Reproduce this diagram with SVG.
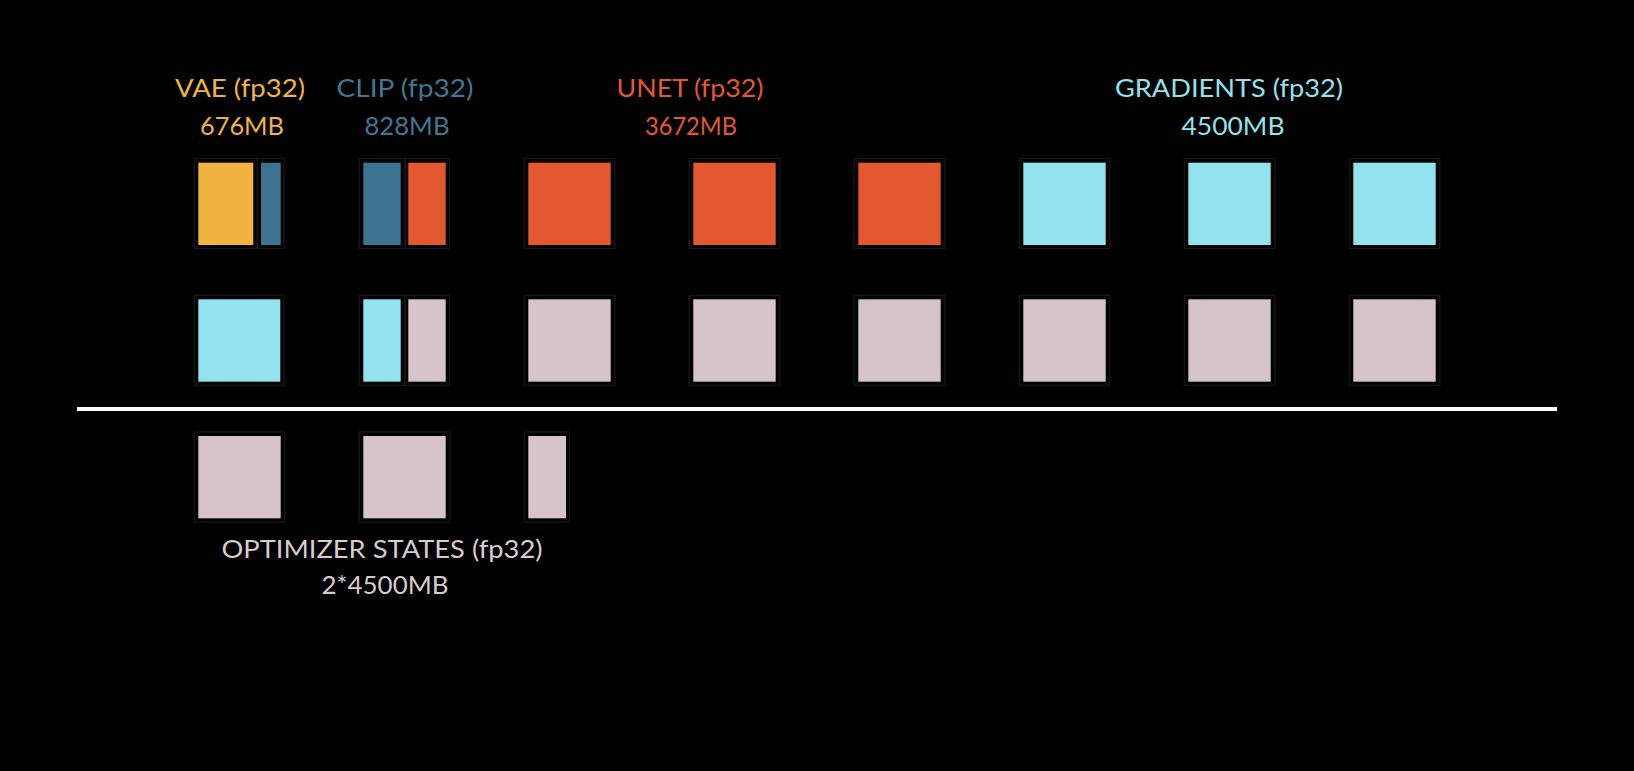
<svg xmlns="http://www.w3.org/2000/svg" width="1634" height="771" viewBox="0 0 1634 771">
<style>
.bg{fill:#000}
.fr{fill:none;stroke:#1a1a1a;stroke-width:1.2}
.y{fill:#F1B441}
.b{fill:#3B7391}
.r{fill:#E4582F}
.c{fill:#92E3EE}
.p{fill:#D6C4C9}
text{font-family:"Lato","Noto Sans","Liberation Sans",sans-serif;font-size:25px;text-anchor:middle}
.ty{fill:#F1B441}.tb{fill:#3F7894}.tr{fill:#E4582F}.tc{fill:#92E3EE}.tp{fill:#D8CACE}
</style>
<rect class="bg" x="0" y="0" width="1634" height="771"/>
<g id="labels">
<text class="ty" x="240" y="97" textLength="130" lengthAdjust="spacingAndGlyphs">VAE (fp32)</text>
<text class="ty" x="242" y="135" textLength="84" lengthAdjust="spacingAndGlyphs">676MB</text>
<text class="tb" x="405" y="97" textLength="137" lengthAdjust="spacingAndGlyphs">CLIP (fp32)</text>
<text class="tb" x="407" y="135" textLength="85" lengthAdjust="spacingAndGlyphs">828MB</text>
<text class="tr" x="690" y="97" textLength="147" lengthAdjust="spacingAndGlyphs">UNET (fp32)</text>
<text class="tr" x="691" y="135" textLength="92" lengthAdjust="spacingAndGlyphs">3672MB</text>
<text class="tc" x="1229" y="97" textLength="228" lengthAdjust="spacingAndGlyphs">GRADIENTS (fp32)</text>
<text class="tc" x="1233" y="135" textLength="103" lengthAdjust="spacingAndGlyphs">4500MB</text>
<text class="tp" x="382" y="558" textLength="321" lengthAdjust="spacingAndGlyphs">OPTIMIZER STATES (fp32)</text>
<text class="tp" x="385" y="594" textLength="127" lengthAdjust="spacingAndGlyphs">2*4500MB</text>
</g>
<g id="row1">
<g id="r1c1"><rect class="fr" x="194.3" y="158.5" width="63" height="90"/><rect class="fr" x="257.3" y="158.5" width="26.7" height="90"/><rect class="y" x="198.3" y="162.7" width="55" height="82.3"/><rect class="b" x="261" y="162.7" width="19.7" height="82.3"/></g>
<g id="r1c2"><rect class="fr" x="359.3" y="158.5" width="45.7" height="90"/><rect class="fr" x="405" y="158.5" width="44.3" height="90"/><rect class="b" x="363.3" y="162.7" width="37.4" height="82.3"/><rect class="r" x="408.3" y="162.7" width="37.4" height="82.3"/></g>
<g id="r1c3"><rect class="fr" x="524.3" y="158.5" width="90.5" height="90"/><rect class="r" x="528.3" y="162.7" width="82.4" height="82.3"/></g>
<g id="r1c4"><rect class="fr" x="689.3" y="158.5" width="90.5" height="90"/><rect class="r" x="693.3" y="162.7" width="82.4" height="82.3"/></g>
<g id="r1c5"><rect class="fr" x="854.3" y="158.5" width="90.5" height="90"/><rect class="r" x="858.3" y="162.7" width="82.4" height="82.3"/></g>
<g id="r1c6"><rect class="fr" x="1019.3" y="158.5" width="90.5" height="90"/><rect class="c" x="1023.3" y="162.7" width="82.4" height="82.3"/></g>
<g id="r1c7"><rect class="fr" x="1184.3" y="158.5" width="90.5" height="90"/><rect class="c" x="1188.3" y="162.7" width="82.4" height="82.3"/></g>
<g id="r1c8"><rect class="fr" x="1349.3" y="158.5" width="90.5" height="90"/><rect class="c" x="1353.3" y="162.7" width="82.4" height="82.3"/></g>
</g>
<g id="row2">
<g id="r2c1"><rect class="fr" x="194.3" y="295.3" width="89.7" height="90"/><rect class="c" x="198.3" y="299.3" width="82" height="82.4"/></g>
<g id="r2c2"><rect class="fr" x="359.3" y="295.3" width="45.7" height="90"/><rect class="fr" x="405" y="295.3" width="44.3" height="90"/><rect class="c" x="363.3" y="299.3" width="37.4" height="82.4"/><rect class="p" x="408.3" y="299.3" width="37.4" height="82.4"/></g>
<g id="r2c3"><rect class="fr" x="524.3" y="295.3" width="90.5" height="90"/><rect class="p" x="528.3" y="299.3" width="82.4" height="82.4"/></g>
<g id="r2c4"><rect class="fr" x="689.3" y="295.3" width="90.5" height="90"/><rect class="p" x="693.3" y="299.3" width="82.4" height="82.4"/></g>
<g id="r2c5"><rect class="fr" x="854.3" y="295.3" width="90.5" height="90"/><rect class="p" x="858.3" y="299.3" width="82.4" height="82.4"/></g>
<g id="r2c6"><rect class="fr" x="1019.3" y="295.3" width="90.5" height="90"/><rect class="p" x="1023.3" y="299.3" width="82.4" height="82.4"/></g>
<g id="r2c7"><rect class="fr" x="1184.3" y="295.3" width="90.5" height="90"/><rect class="p" x="1188.3" y="299.3" width="82.4" height="82.4"/></g>
<g id="r2c8"><rect class="fr" x="1349.3" y="295.3" width="90.5" height="90"/><rect class="p" x="1353.3" y="299.3" width="82.4" height="82.4"/></g>
</g>
<g id="divider"><rect x="77" y="407" width="1480" height="4" fill="#fff"/></g>
<g id="row3">
<g id="r3c1"><rect class="fr" x="194.3" y="432" width="90.5" height="90"/><rect class="p" x="198.3" y="436" width="82.4" height="82.3"/></g>
<g id="r3c2"><rect class="fr" x="359.3" y="432" width="90.5" height="90"/><rect class="p" x="363.3" y="436" width="82.4" height="82.3"/></g>
<g id="r3c3"><rect class="fr" x="524.3" y="432" width="45" height="90"/><rect class="p" x="528.3" y="436" width="37.7" height="82.3"/></g>
</g>
</svg>
